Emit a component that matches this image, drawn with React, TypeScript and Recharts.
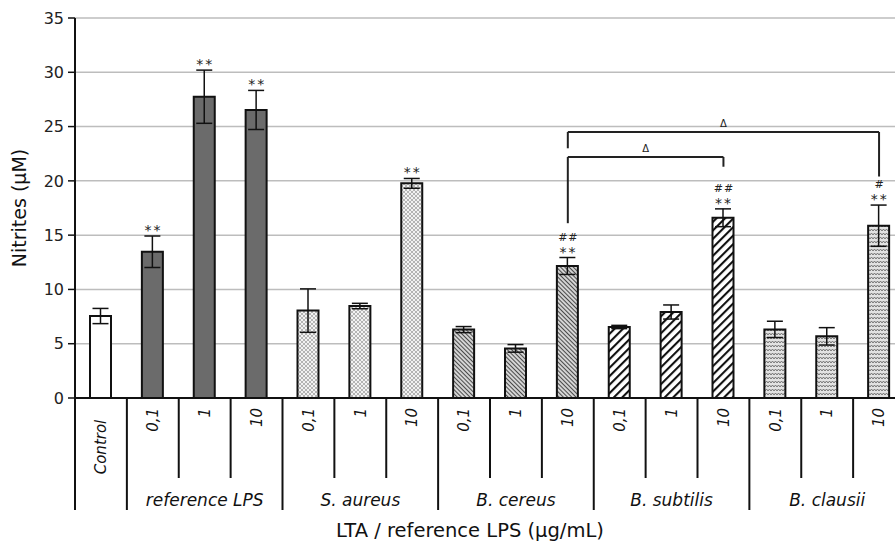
import React from 'react';
import {
  BarChart,
  Bar,
  XAxis,
  YAxis,
  CartesianGrid,
  ErrorBar,
  LabelList,
  ReferenceLine,
  Cell,
} from 'recharts';

// groups along the x axis (Control stands alone, the others have three doses)
const groups = ['Control', 'reference LPS', 'S. aureus', 'B. cereus', 'B. subtilis', 'B. clausii'];
const doses = ['0,1', '1', '10'];

// nitrites (µM), in axis order
const nitrites = [7.55, 13.47, 27.75, 26.53, 8.05, 8.47, 19.77, 6.3, 4.57, 12.16, 6.54, 7.92, 16.6, 6.32, 5.68, 15.87];
const errors = [0.7, 1.45, 2.45, 1.8, 2.0, 0.25, 0.45, 0.28, 0.35, 0.78, 0.15, 0.65, 0.82, 0.75, 0.8, 1.9];
// significance marks: ** vs control, # / ## vs reference LPS
const vsControl = ['', '**', '**', '**', '', '', '**', '', '', '**', '', '', '**', '', '', '**'];
const vsLps = ['', '', '', '', '', '', '', '', '', '##', '', '', '##', '', '', '#'];
const yTicks = [0, 5, 10, 15, 20, 25, 30, 35];

// Δ brackets between the 10 µg/mL bars
const brackets = [
  { from: 'B. cereus 10', to: 'B. clausii 10', top: 24.5, fromEnd: 23.0, toEnd: 20.4 },
  { from: 'B. cereus 10', to: 'B. subtilis 10', top: 22.2, fromEnd: 16.1, toEnd: 21.3 },
];

const fills: Record<string, string> = {
  Control: '#ffffff',
  'reference LPS': '#6b6b6b',
  'S. aureus': 'url(#pat-sa)',
  'B. cereus': 'url(#pat-bc)',
  'B. subtilis': 'url(#pat-bs)',
  'B. clausii': 'url(#pat-bcl)',
};

type Cat = { id: string; group: string; dose: string; first: boolean; middle: boolean; solo: boolean };

const cats: Cat[] = [];
groups.forEach((g) => {
  if (g === 'Control') {
    cats.push({ id: g, group: g, dose: '', first: true, middle: false, solo: true });
  } else {
    doses.forEach((d, k) => {
      cats.push({ id: `${g} ${d}`, group: g, dose: d, first: k === 0, middle: k === 1, solo: false });
    });
  }
});

const data = cats.map((c, i) => ({ id: c.id, group: c.group, i, value: nitrites[i], err: errors[i] }));

const FONT = '"DejaVu Sans", "Liberation Sans", Arial, sans-serif';
const CHART_W = 905;
const CHART_H = 542;
const TOP = 18;
const Y_AXIS_W = 75;
const X_AXIS_H = 144;
const PLOT_BOTTOM = CHART_H - X_AXIS_H;
const BAND = (CHART_W - Y_AXIS_W) / cats.length;

const XTick = (props: any) => {
  const { payload } = props;
  const i = payload.index;
  const c = cats[i];
  if (!c) return null;
  const cx = payload.coordinate;
  const left = cx - BAND / 2;
  const y0 = PLOT_BOTTOM;
  const last = i === cats.length - 1;
  return (
    <g>
      <line x1={left} x2={left} y1={y0} y2={c.first ? 510 : 478} stroke="#111" strokeWidth={2} />
      {last && <line x1={cx + BAND / 2} x2={cx + BAND / 2} y1={y0} y2={510} stroke="#111" strokeWidth={2} />}
      {c.solo ? (
        <text
          x={cx}
          y={447}
          transform={`rotate(-90 ${cx} 447)`}
          textAnchor="middle"
          dy="0.35em"
          fontSize={15}
          fontStyle="italic"
          fontFamily={FONT}
          fill="#111"
        >
          {c.group}
        </text>
      ) : (
        <text
          x={cx}
          y={408}
          transform={`rotate(-90 ${cx} 408)`}
          textAnchor="end"
          dy="0.35em"
          fontSize={15}
          fontStyle="italic"
          fontFamily={FONT}
          fill="#111"
        >
          {c.dose}
        </text>
      )}
      {c.middle && (
        <text x={cx} y={506} textAnchor="middle" fontSize={17} fontStyle="italic" fontFamily={FONT} fill="#111">
          {c.group}
        </text>
      )}
    </g>
  );
};

const Marks = (props: any) => {
  const { x, y, width, height, value } = props;
  const i = Number(value);
  if (!vsControl[i]) return null;
  const pxPerUnit = Number(height) / nitrites[i];
  const cx = Number(x) + Number(width) / 2;
  const errTop = Number(y) - errors[i] * pxPerUnit;
  return (
    <g>
      <text x={cx + 1} y={errTop - 1} textAnchor="middle" fontSize={14} letterSpacing={2} fontFamily={FONT} fill="#222">
        {vsControl[i]}
      </text>
      {vsLps[i] && (
        <text x={cx + 1} y={errTop - 17} textAnchor="middle" fontSize={11} letterSpacing={1} fontFamily={FONT} fill="#222">
          {vsLps[i]}
        </text>
      )}
    </g>
  );
};

export default function App() {
  return (
    <div style={{ position: 'fixed', left: 0, top: 0, width: 895, height: 542, overflow: 'hidden', background: '#fff' }}>
      <BarChart
        width={CHART_W}
        height={CHART_H}
        data={data}
        margin={{ top: TOP, right: 0, bottom: 0, left: 0 }}
        barSize={21}
      >
        <defs>
          <pattern id="pat-sa" width={4} height={4} patternUnits="userSpaceOnUse">
            <rect width={4} height={4} fill="#f2f2f2" />
            <path d="M0,0 L4,4 M4,0 L0,4" stroke="#9a9a9a" strokeWidth={0.7} />
          </pattern>
          <pattern id="pat-bc" width={3} height={3} patternUnits="userSpaceOnUse" patternTransform="rotate(-45)">
            <rect width={3} height={3} fill="#d4d4d4" />
            <line x1={0.5} y1={0} x2={0.5} y2={3} stroke="#4a4a4a" strokeWidth={1} />
          </pattern>
          <pattern id="pat-bs" width={6} height={6} patternUnits="userSpaceOnUse" patternTransform="rotate(45)">
            <rect width={6} height={6} fill="#ffffff" />
            <line x1={1} y1={0} x2={1} y2={6} stroke="#111" strokeWidth={2.2} />
          </pattern>
          <pattern id="pat-bcl" width={6} height={4} patternUnits="userSpaceOnUse">
            <rect width={6} height={4} fill="#e2e2e2" />
            <path d="M0,3 L1.5,1 L3,3 L4.5,1 L6,3" fill="none" stroke="#6a6a6a" strokeWidth={0.9} />
          </pattern>
        </defs>
        <CartesianGrid vertical={false} stroke="#bdbdbd" strokeWidth={1.5} />
        <XAxis
          dataKey="id"
          height={X_AXIS_H}
          interval={0}
          tickLine={false}
          axisLine={{ stroke: '#111', strokeWidth: 2 }}
          tick={<XTick />}
          label={{
            content: () => (
              <text x={470} y={537} textAnchor="middle" fontSize={19.5} fontFamily={FONT} fill="#111">
                LTA / reference LPS (µg/mL)
              </text>
            ),
          }}
        />
        <YAxis
          width={Y_AXIS_W}
          domain={[0, 35]}
          ticks={yTicks}
          interval={0}
          tickSize={7}
          tickMargin={4}
          axisLine={{ stroke: '#111', strokeWidth: 2 }}
          tickLine={{ stroke: '#111', strokeWidth: 1.5 }}
          tick={{ fontSize: 16, fill: '#222', fontFamily: FONT }}
          label={{
            content: () => (
              <text
                x={19}
                y={208}
                transform="rotate(-90 19 208)"
                textAnchor="middle"
                dy="0.35em"
                fontSize={19}
                fontFamily={FONT}
                fill="#111"
              >
                Nitrites (µM)
              </text>
            ),
          }}
        />
        <Bar dataKey="value" isAnimationActive={false} stroke="#111" strokeWidth={2}>
          {data.map((d) => (
            <Cell key={d.id} fill={fills[d.group]} stroke="#111" strokeWidth={2} />
          ))}
          <ErrorBar dataKey="err" width={8} strokeWidth={1.5} stroke="#111" direction="y" isAnimationActive={false} />
          <LabelList dataKey="i" content={<Marks />} />
        </Bar>
        {brackets.map((b, k) => (
          <React.Fragment key={k}>
            <ReferenceLine
              segment={[
                { x: b.from, y: b.top },
                { x: b.to, y: b.top },
              ]}
              stroke="#222"
              strokeWidth={2}
              label={{ value: 'Δ', position: 'top', offset: 5, fontSize: 10, fill: '#222', fontFamily: FONT }}
            />
            <ReferenceLine
              segment={[
                { x: b.from, y: b.top },
                { x: b.from, y: b.fromEnd },
              ]}
              stroke="#222"
              strokeWidth={2}
            />
            <ReferenceLine
              segment={[
                { x: b.to, y: b.top },
                { x: b.to, y: b.toEnd },
              ]}
              stroke="#222"
              strokeWidth={2}
            />
          </React.Fragment>
        ))}
      </BarChart>
    </div>
  );
}
